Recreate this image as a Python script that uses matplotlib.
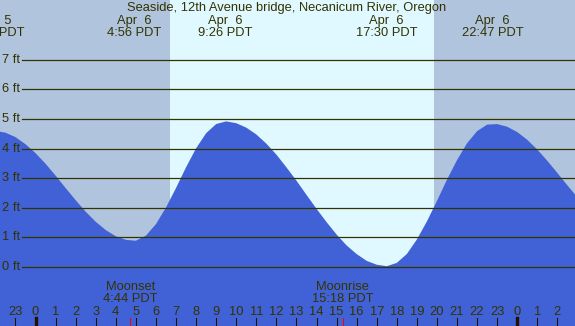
import numpy as np
import matplotlib
matplotlib.use("Agg")
import matplotlib.pyplot as plt
import matplotlib.transforms as mtransforms

plt.rcParams['font.family'] = ['Liberation Sans', 'DejaVu Sans']

# tide height (ft) read every half hour, hours relative to midnight Apr 6
tide_hours = np.arange(-2.0, 27.01, 0.5)
tide_ft = [4.6, 4.54, 4.39, 4.15, 3.85, 3.49, 3.09, 2.67, 2.26, 1.87, 1.53, 1.25,
           1.04, 0.92, 0.89, 1.06, 1.45, 2.01, 2.67, 3.37, 4.01, 4.52, 4.83, 4.92,
           4.86, 4.71, 4.48, 4.17, 3.8, 3.37, 2.92, 2.44, 1.97, 1.52, 1.1, 0.73,
           0.44, 0.21, 0.08, 0.03, 0.14, 0.44, 0.93, 1.54, 2.23, 2.95, 3.61, 4.18,
           4.59, 4.81, 4.83, 4.74, 4.56, 4.3, 3.97, 3.59, 3.18, 2.76, 2.36]

ext_hours = [-2.07, 4.93, 9.43, 17.5, 22.78]
ext_labels = ['Apr  5\n21:56 PDT', 'Apr  6\n4:56 PDT', 'Apr  6\n9:26 PDT',
              'Apr  6\n17:30 PDT', 'Apr  6\n22:47 PDT']

sunrise, sunset = 6.70, 19.86
moon_hours = [4.73, 15.3]
moon_labels = ['Moonset\n4:44 PDT', 'Moonrise\n15:18 PDT']

ft_levels = [0, 1, 2, 3, 4, 5, 6, 7]
hour_ticks = list(range(-1, 27))
hour_labels = [str(h % 24) for h in hour_ticks]

title = 'Seaside, 12th Avenue bridge, Necanicum River, Oregon'

night = '#b0c4de'
day = '#e0f8ff'
water = '#4162d6'
ink = '#333300'
fs = 9.3

W, H = 575, 326
fig = plt.figure(figsize=(W / 100, H / 100), dpi=100)
ax = fig.add_axes([0, 0, 1, 1])
ax.set_xlim(-1.77, 26.88)
ax.set_ylim(-1.99, 9.02)
ax.axis('off')
ax.add_patch(plt.Rectangle((0, 0), 1, 1, transform=ax.transAxes, color=night, zorder=0))
ax.axvspan(sunrise, sunset, color=day, zorder=1, lw=0)

ax.fill_between(tide_hours, tide_ft, -5, color=water, lw=0, zorder=2)

for lv in ft_levels:
    ax.axhline(lv, xmin=22 / W, xmax=1, color=ink, lw=0.9, zorder=3)
    ax.text(20.5 / W, lv, f'{lv} ft', transform=ax.get_yaxis_transform(),
            ha='right', va='center', fontsize=fs, color=ink, zorder=4)

bt = mtransforms.blended_transform_factory(ax.transData, ax.transAxes)

for t, lab in zip(ext_hours, ext_labels):
    ax.text(t, 1 - 27 / H, lab, transform=bt, ha='center', va='center',
            fontsize=fs, color=ink, linespacing=1.0, zorder=4)

fig.text(287 / W, 1 - 8 / H, title, ha='center', va='center', fontsize=fs, color=ink)

for h, lab in zip(hour_ticks, hour_labels):
    ax.text(h, 1 - 312 / H, lab, transform=bt, ha='center', va='center',
            fontsize=fs, color=ink, zorder=4)
    ax.axvline(h, ymin=0, ymax=8 / H, color='#221100',
               lw=2.4 if h % 24 == 0 else 0.75, zorder=4)

for t, lab in zip(moon_hours, moon_labels):
    ax.text(t, 1 - 293 / H, lab, transform=bt, ha='center', va='center',
            fontsize=fs, color=ink, linespacing=1.0, zorder=4)
    ax.axvline(t, ymin=0, ymax=8 / H, color='red', lw=0.75, zorder=4)

fig.savefig('out.png', dpi=100)
